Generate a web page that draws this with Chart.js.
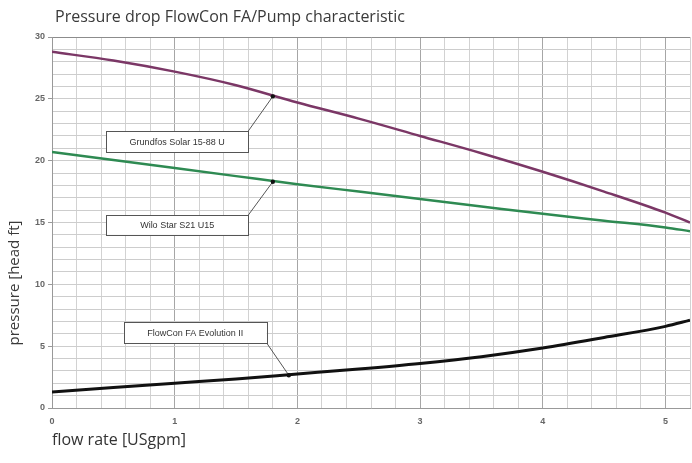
<!DOCTYPE html>
<html>
<head>
<meta charset="utf-8">
<script src="https://cdn.jsdelivr.net/npm/chart.js@4"></script>
<style>
  body { margin: 0; background: #fff; }
</style>
</head>
<body>
<canvas id="myChart" width="692" height="463"></canvas>
<script>
// flow rate [USgpm]
var flow = [0, 0.5, 1, 1.5, 2, 2.5, 3, 3.5, 4, 4.5, 5, 5.2];
// pressure [head ft]
var grundfos = [28.8, 28.1, 27.2, 26.1, 24.7, 23.4, 22.0, 20.6, 19.1, 17.5, 15.8, 15.0];
var wilo = [20.7, 20.05, 19.4, 18.75, 18.1, 17.5, 16.9, 16.3, 15.7, 15.15, 14.6, 14.3];
var flowcon = [1.3, 1.65, 2.0, 2.35, 2.75, 3.15, 3.6, 4.15, 4.85, 5.7, 6.6, 7.1];

// callouts: label, point on curve, box corners (data units)
var calloutLabels = ['Grundfos Solar 15-88 U', 'Wilo Star S21 U15', 'FlowCon FA Evolution II'];
var calloutPoints = [[1.8, 25.2], [1.8, 18.3], [1.93, 2.65]];
var calloutBoxes = [[0.44, 22.4, 1.6, 20.7], [0.44, 15.6, 1.6, 14.0], [0.585, 6.95, 1.75, 5.25]];

function toXY(ys) {
    return flow.map(function (x, i) { return { x: x, y: ys[i] }; });
}

function isWhole(v, step) {
    return Math.abs(v / step - Math.round(v / step)) < 1e-6;
}

var callouts = {
    id: 'callouts',
    afterDatasetsDraw: function (chart) {
        var c = chart.ctx, xs = chart.scales.x, ys = chart.scales.y;
        c.save();
        calloutLabels.forEach(function (label, i) {
            var b = calloutBoxes[i];
            var x0 = xs.getPixelForValue(b[0]), y0 = ys.getPixelForValue(b[1]);
            var x1 = xs.getPixelForValue(b[2]), y1 = ys.getPixelForValue(b[3]);
            var px = xs.getPixelForValue(calloutPoints[i][0]);
            var py = ys.getPixelForValue(calloutPoints[i][1]);
            // leader line from the box corner nearest to the point
            var cy = py < y0 ? y0 : y1;
            c.strokeStyle = '#555';
            c.lineWidth = 1;
            c.beginPath();
            c.moveTo(x1, cy);
            c.lineTo(px, py);
            c.stroke();
            c.fillStyle = '#111';
            c.beginPath();
            c.arc(px, py, 2.2, 0, Math.PI * 2);
            c.fill();
            c.fillStyle = '#fff';
            c.fillRect(x0, y0, x1 - x0, y1 - y0);
            c.strokeStyle = '#555';
            c.strokeRect(Math.round(x0) + 0.5, Math.round(y0) + 0.5, Math.round(x1 - x0), Math.round(y1 - y0));
            c.fillStyle = '#333';
            c.font = '9px "Liberation Sans", Arial, sans-serif';
            c.textAlign = 'center';
            c.textBaseline = 'middle';
            c.fillText(label, (x0 + x1) / 2, (y0 + y1) / 2 + 1);
        });
        c.restore();
    }
};

// chart title and the off-centre y axis title
var texts = {
    id: 'texts',
    afterDraw: function (chart) {
        var c = chart.ctx;
        c.save();
        c.fillStyle = '#3a3a3a';
        c.font = '16px "Open Sans", sans-serif';
        c.textAlign = 'left';
        c.textBaseline = 'alphabetic';
        c.fillText('Pressure drop FlowCon FA/Pump characteristic', 55, 22);
        c.translate(15, 283);
        c.rotate(-Math.PI / 2);
        c.font = '15px "Open Sans", sans-serif';
        c.textAlign = 'center';
        c.textBaseline = 'middle';
        c.fillText('pressure [head ft]', 0, 0);
        c.restore();
    }
};

var ctx = document.getElementById('myChart').getContext('2d');

var myChart = new Chart(ctx, {
    type: 'line',
    data: {
        datasets: [{
            label: 'Grundfos Solar 15-88 U',
            data: toXY(grundfos),
            borderColor: '#7b3766',
            borderWidth: 2.5,
            pointRadius: 0,
            cubicInterpolationMode: 'monotone'
        }, {
            label: 'Wilo Star S21 U15',
            data: toXY(wilo),
            borderColor: '#2e8a52',
            borderWidth: 2.5,
            pointRadius: 0,
            cubicInterpolationMode: 'monotone'
        }, {
            label: 'FlowCon FA Evolution II',
            data: toXY(flowcon),
            borderColor: '#111',
            borderWidth: 3,
            pointRadius: 0,
            cubicInterpolationMode: 'monotone'
        }]
    },
    options: {
        responsive: false,
        animation: false,
        layout: { padding: { top: 37, left: 0, right: 0, bottom: 0 } },
        plugins: {
            legend: { display: false },
            tooltip: { enabled: false }
        },
        scales: {
            x: {
                type: 'linear',
                min: 0,
                max: 5.2,
                afterFit: function (s) { s.height = 55; },
                border: { color: '#999' },
                grid: {
                    color: function (c) { return isWhole(c.tick.value, 1) ? '#a6a6a6' : '#d2d2d2'; },
                    tickColor: 'transparent',
                    tickLength: 6
                },
                ticks: {
                    stepSize: 0.2,
                    autoSkip: false,
                    maxRotation: 0,
                    padding: 2,
                    color: '#666',
                    font: { family: '"Liberation Sans", Arial', size: 9, weight: 'bold' },
                    callback: function (v) { return isWhole(v, 1) ? Math.round(v) : ''; }
                },
                title: {
                    display: true,
                    text: 'flow rate [USgpm]',
                    align: 'start',
                    color: '#333',
                    font: { family: '"Open Sans"', size: 16 },
                    padding: { top: 0, bottom: 13 }
                }
            },
            y: {
                min: 0,
                max: 30,
                afterFit: function (s) { s.width = 52; },
                border: { color: '#999' },
                grid: {
                    color: function (c) { return c.tick.value === 30 ? '#8c8c8c' : '#cdcdcd'; },
                    tickColor: function (c) { return isWhole(c.tick.value, 5) ? '#999' : 'transparent'; },
                    tickLength: 4
                },
                ticks: {
                    stepSize: 1,
                    autoSkip: false,
                    padding: 3,
                    color: '#666',
                    font: { family: '"Liberation Sans", Arial', size: 9, weight: 'bold' },
                    callback: function (v) { return isWhole(v, 5) ? Math.round(v) : ''; }
                },
                title: { display: false }
            }
        }
    },
    plugins: [callouts, texts]
});
</script>
</body>
</html>
